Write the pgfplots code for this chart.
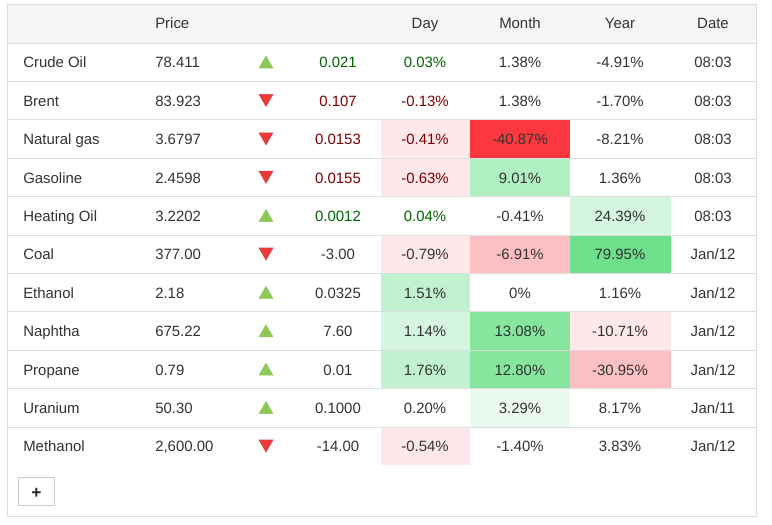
\documentclass[border=0pt]{standalone}
\usepackage{pgfplots}
\pgfplotsset{compat=1.18}
\usepackage{fontspec}
\setmainfont{Liberation Sans}
\newcommand\fnt{\fontsize{11.2pt}{13pt}\selectfont}
\definecolor{txt}{HTML}{333333}
\definecolor{pgreen}{HTML}{006400}
\definecolor{pred}{HTML}{800000}
\definecolor{upg}{HTML}{8DC858}
\definecolor{dnr}{HTML}{E83A3A}
\definecolor{line}{HTML}{DDDDDD}
\definecolor{head}{HTML}{F5F5F5}
\definecolor{pink}{RGB}{255,232,233}
\definecolor{rose}{RGB}{252,192,194}
\definecolor{hred}{RGB}{252,56,62}
\definecolor{gA}{RGB}{234,250,239}
\definecolor{gB}{RGB}{212,245,222}
\definecolor{gC}{RGB}{192,242,208}
\definecolor{gD}{RGB}{176,240,194}
\definecolor{gE}{RGB}{134,230,158}
\definecolor{gF}{RGB}{110,224,140}
\pgfplotsset{
  lbl/.style={only marks, mark=none, point meta=explicit symbolic, nodes near coords,
    nodes near coords style={anchor=#1, inner sep=0pt, font=\fnt, text=txt, yshift=-1.8pt}},
  cell/.style={fill=#1, draw=none, forget plot},
}
\begin{document}
\begin{tikzpicture}
\begin{axis}[width=579pt, height=393.75pt, scale only axis,
  xmin=0, xmax=772, ymin=0, ymax=525, y dir=reverse, hide axis, clip=false]
% background
\addplot[cell=white] coordinates {(0,0) (772,0) (772,525) (0,525)} --cycle;
% header
\addplot[cell=head] coordinates {(7.5,4.5) (756.5,4.5) (756.5,43) (7.5,43)} --cycle;
% Day column cells
\addplot[cell=pink] coordinates {(381,119.8) (470,119.8) (470,158.2) (381,158.2)} --cycle;
\addplot[cell=pink] coordinates {(381,158.2) (470,158.2) (470,196.6) (381,196.6)} --cycle;
\addplot[cell=pink] coordinates {(381,235) (470,235) (470,273.4) (381,273.4)} --cycle;
\addplot[cell=gC] coordinates {(381,273.4) (470,273.4) (470,311.8) (381,311.8)} --cycle;
\addplot[cell=gB] coordinates {(381,311.8) (470,311.8) (470,350.2) (381,350.2)} --cycle;
\addplot[cell=gC] coordinates {(381,350.2) (470,350.2) (470,388.6) (381,388.6)} --cycle;
\addplot[cell=pink] coordinates {(381,427) (470,427) (470,465.4) (381,465.4)} --cycle;
% Month column cells
\addplot[cell=hred] coordinates {(470,119.8) (570,119.8) (570,158.2) (470,158.2)} --cycle;
\addplot[cell=gD] coordinates {(470,158.2) (570,158.2) (570,196.6) (470,196.6)} --cycle;
\addplot[cell=rose] coordinates {(470,235) (570,235) (570,273.4) (470,273.4)} --cycle;
\addplot[cell=gE] coordinates {(470,311.8) (570,311.8) (570,350.2) (470,350.2)} --cycle;
\addplot[cell=gE] coordinates {(470,350.2) (570,350.2) (570,388.6) (470,388.6)} --cycle;
\addplot[cell=gA] coordinates {(470,388.6) (570,388.6) (570,427) (470,427)} --cycle;
% Year column cells
\addplot[cell=gB] coordinates {(570,196.6) (671,196.6) (671,235) (570,235)} --cycle;
\addplot[cell=gF] coordinates {(570,235) (671,235) (671,273.4) (570,273.4)} --cycle;
\addplot[cell=pink] coordinates {(570,311.8) (671,311.8) (671,350.2) (570,350.2)} --cycle;
\addplot[cell=rose] coordinates {(570,350.2) (671,350.2) (671,388.6) (570,388.6)} --cycle;
% row lines
\addplot[draw=line, line width=0.75pt, unbounded coords=jump, forget plot] coordinates {
 (7,43) (757,43) (nan,nan) (7,81.4) (757,81.4) (nan,nan) (7,119.8) (757,119.8) (nan,nan)
 (7,158.2) (757,158.2) (nan,nan) (7,196.6) (757,196.6) (nan,nan) (7,235) (757,235) (nan,nan)
 (7,273.4) (757,273.4) (nan,nan) (7,311.8) (757,311.8) (nan,nan) (7,350.2) (757,350.2) (nan,nan)
 (7,388.6) (757,388.6) (nan,nan) (7,427) (757,427)};
% outer border
\addplot[draw=line, line width=0.75pt, forget plot] coordinates {(7.5,4.5) (756.5,4.5) (756.5,516.5) (7.5,516.5)} --cycle;
% plus button
\addplot[draw=black!20, fill=white, line width=0.75pt, forget plot] coordinates {(18.5,477.5) (54.5,477.5) (54.5,505.5) (18.5,505.5)} --cycle;
\addplot[lbl=center, nodes near coords style={font=\fontsize{13pt}{15pt}\selectfont\bfseries, text=black!85, yshift=0pt}] table[meta=t, col sep=semicolon, row sep=\\] {x;y;t\\ 36.5;491;+\\};
% triangles
\addplot[only marks, mark=triangle*, mark size=6pt, color=upg, forget plot] coordinates {
 (266,64) (266,217.6) (266,294.4) (266,332.8) (266,371.2) (266,409.6)};
\addplot[only marks, mark=triangle*, mark size=6pt, color=dnr, mark options={rotate=180}, forget plot] coordinates {
 (266,98.4) (266,136.8) (266,175.2) (266,252) (266,444)};
% header text
\addplot[lbl=mid west] table[meta=t, col sep=semicolon, row sep=\\] {x;y;t\\ 155;23;Price\\};
\addplot[lbl=mid] table[meta=t, col sep=semicolon, row sep=\\] {x;y;t\\ 425;23;Day\\ 520;23;Month\\ 620;23;Year\\ 713;23;Date\\};
% names
\addplot[lbl=mid west] table[meta=t, col sep=semicolon, row sep=\\] {x;y;t\\
23;62;Crude Oil\\ 23;100.4;Brent\\ 23;138.8;Natural gas\\ 23;177.2;Gasoline\\ 23;215.6;Heating Oil\\
23;254;Coal\\ 23;292.4;Ethanol\\ 23;330.8;Naphtha\\ 23;369.2;Propane\\ 23;407.6;Uranium\\ 23;446;Methanol\\};
% prices
\addplot[lbl=mid west] table[meta=t, col sep=semicolon, row sep=\\] {x;y;t\\
155;62;78.411\\ 155;100.4;83.923\\ 155;138.8;3.6797\\ 155;177.2;2.4598\\ 155;215.6;3.2202\\
155;254;377.00\\ 155;292.4;2.18\\ 155;330.8;675.22\\ 155;369.2;0.79\\ 155;407.6;50.30\\ 155;446;2,600.00\\};
% change
\addplot[lbl=mid, nodes near coords style={text=pgreen}] table[meta=t, col sep=semicolon, row sep=\\] {x;y;t\\
338;62;0.021\\ 338;215.6;0.0012\\};
\addplot[lbl=mid, nodes near coords style={text=pred}] table[meta=t, col sep=semicolon, row sep=\\] {x;y;t\\
338;100.4;0.107\\ 338;138.8;0.0153\\ 338;177.2;0.0155\\};
\addplot[lbl=mid] table[meta=t, col sep=semicolon, row sep=\\] {x;y;t\\
338;254;-3.00\\ 338;292.4;0.0325\\ 338;330.8;7.60\\ 338;369.2;0.01\\ 338;407.6;0.1000\\ 338;446;-14.00\\};
% day
\addplot[lbl=mid, nodes near coords style={text=pgreen}] table[meta=t, col sep=semicolon, row sep=\\] {x;y;t\\
425;62;0.03\%\\ 425;215.6;0.04\%\\};
\addplot[lbl=mid, nodes near coords style={text=pred}] table[meta=t, col sep=semicolon, row sep=\\] {x;y;t\\
425;100.4;-0.13\%\\ 425;138.8;-0.41\%\\ 425;177.2;-0.63\%\\};
\addplot[lbl=mid] table[meta=t, col sep=semicolon, row sep=\\] {x;y;t\\
425;254;-0.79\%\\ 425;292.4;1.51\%\\ 425;330.8;1.14\%\\ 425;369.2;1.76\%\\ 425;407.6;0.20\%\\ 425;446;-0.54\%\\};
% month
\addplot[lbl=mid] table[meta=t, col sep=semicolon, row sep=\\] {x;y;t\\
520;62;1.38\%\\ 520;100.4;1.38\%\\ 520;138.8;-40.87\%\\ 520;177.2;9.01\%\\ 520;215.6;-0.41\%\\
520;254;-6.91\%\\ 520;292.4;0\%\\ 520;330.8;13.08\%\\ 520;369.2;12.80\%\\ 520;407.6;3.29\%\\ 520;446;-1.40\%\\};
% year
\addplot[lbl=mid] table[meta=t, col sep=semicolon, row sep=\\] {x;y;t\\
620;62;-4.91\%\\ 620;100.4;-1.70\%\\ 620;138.8;-8.21\%\\ 620;177.2;1.36\%\\ 620;215.6;24.39\%\\
620;254;79.95\%\\ 620;292.4;1.16\%\\ 620;330.8;-10.71\%\\ 620;369.2;-30.95\%\\ 620;407.6;8.17\%\\ 620;446;3.83\%\\};
% date
\addplot[lbl=mid] table[meta=t, col sep=semicolon, row sep=\\] {x;y;t\\
713;62;08:03\\ 713;100.4;08:03\\ 713;138.8;08:03\\ 713;177.2;08:03\\ 713;215.6;08:03\\
713;254;Jan/12\\ 713;292.4;Jan/12\\ 713;330.8;Jan/12\\ 713;369.2;Jan/12\\ 713;407.6;Jan/11\\ 713;446;Jan/12\\};
\end{axis}
\end{tikzpicture}
\end{document}
